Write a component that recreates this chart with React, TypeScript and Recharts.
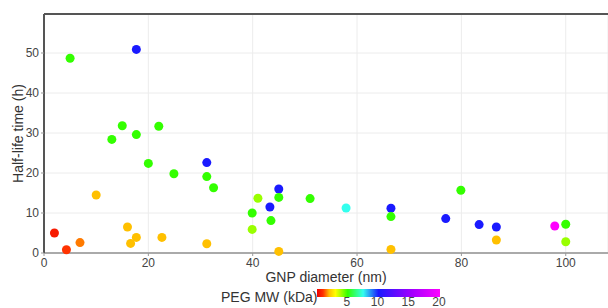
import { ScatterChart, Scatter, XAxis, YAxis, CartesianGrid, ReferenceLine } from 'recharts';

// GNP diameter (nm), half-life (h), PEG molecular weight (kDa)
const diameters = [
  5.0, 17.7, 15.0, 13.0, 17.7, 22.0, 20.0, 24.9, 10.0, 2.0, 4.3, 6.9, 16.0, 16.6, 17.7, 22.6,
  31.2, 31.2, 32.5, 31.2, 41.0, 39.9, 39.9, 43.3, 43.5, 45.0, 45.0, 45.0, 51.0, 57.9, 66.5,
  66.5, 66.5, 79.9, 77.0, 83.4, 86.7, 86.7, 97.9, 100.0, 100.0,
];
const halfLives = [
  48.7, 50.9, 31.8, 28.4, 29.6, 31.7, 22.4, 19.8, 14.5, 5.0, 0.8, 2.6, 6.5, 2.4, 3.9, 3.9,
  22.6, 19.1, 16.3, 2.3, 13.7, 10.0, 5.9, 11.5, 8.1, 16.0, 13.9, 0.4, 13.6, 11.25, 11.2,
  9.1, 0.9, 15.7, 8.6, 7.1, 6.5, 3.25, 6.75, 7.2, 2.8,
];
const pegMW = [
  5, 10, 5, 5, 5, 5, 5, 5, 2, 0.5, 1, 1.5, 2, 2, 2, 2,
  10, 5, 5, 2, 4, 5, 4, 10, 5, 10, 5, 2, 5, 7.5, 10,
  5, 2, 5, 10, 10, 10, 2, 20, 5, 4,
];

const xTicks = [0, 20, 40, 60, 80, 100];
const yTicks = [0, 10, 20, 30, 40, 50];
const mwTicks = [5, 10, 15, 20];

const X_MAX = 108.1;
const Y_MAX = 59.75;
const MW_MAX = 20;

const stops: [number, string][] = [
  [0, '#ee0000'],
  [1, '#ff3300'],
  [2, '#ffc000'],
  [3, '#ffff00'],
  [4, '#99ff00'],
  [5, '#33ff00'],
  [7.5, '#33ffee'],
  [10, '#1a1aff'],
  [15, '#9900ff'],
  [20, '#ff00ff'],
];

function hex(c: string) {
  return [1, 3, 5].map((i) => parseInt(c.slice(i, i + 2), 16));
}

function colorFor(v: number) {
  for (let i = 1; i < stops.length; i++) {
    const [v0, c0] = stops[i - 1];
    const [v1, c1] = stops[i];
    if (v <= v1) {
      const t = (v - v0) / (v1 - v0);
      const a = hex(c0);
      const b = hex(c1);
      const m = a.map((x, k) => Math.round(x + (b[k] - x) * t));
      return `rgb(${m[0]},${m[1]},${m[2]})`;
    }
  }
  return stops[stops.length - 1][1];
}

const data = diameters.map((d, i) => ({ d, h: halfLives[i], mw: pegMW[i] }));

const gradient = `linear-gradient(to right, ${stops
  .map(([v, c]) => `${c} ${(v / MW_MAX) * 100}%`)
  .join(', ')})`;

const font = 'Arial, "Liberation Sans", sans-serif';

export default function App() {
  return (
    <div style={{ position: 'absolute', left: 0, top: 0, width: 608, height: 308, fontFamily: font, overflow: 'hidden' }}>
      <ScatterChart width={608} height={308} margin={{ top: 14, right: 0, left: 0, bottom: 30 }}>
        <CartesianGrid stroke='#ececec' />
        <XAxis
          type='number'
          dataKey='d'
          domain={[0, X_MAX]}
          ticks={xTicks}
          height={25}
          tickSize={3}
          tick={{ fill: '#444', fontSize: 12 }}
          tickLine={{ stroke: '#999' }}
          axisLine={{ stroke: '#aaa', strokeWidth: 2 }}
          label={{ value: 'GNP diameter (nm)', position: 'insideBottom', offset: -4, fill: '#333', fontSize: 14 }}
        />
        <YAxis
          type='number'
          dataKey='h'
          domain={[0, Y_MAX]}
          ticks={yTicks}
          width={44}
          tickSize={3}
          tick={{ fill: '#444', fontSize: 12 }}
          tickLine={{ stroke: '#999' }}
          axisLine={{ stroke: '#555', strokeWidth: 2 }}
          label={{
            value: 'Half-life time (h)',
            angle: -90,
            position: 'insideLeft',
            offset: 18,
            fill: '#333',
            fontSize: 14,
            style: { textAnchor: 'middle' },
          }}
        />
        <ReferenceLine y={Y_MAX} stroke='#555' strokeWidth={2} />
        <Scatter
          data={data}
          isAnimationActive={false}
          shape={(props: any) => {
            const { cx, cy, payload } = props;
            return <circle cx={cx} cy={cy} r={4.5} fill={colorFor(payload.mw)} />;
          }}
        />
      </ScatterChart>
      <div style={{ position: 'absolute', left: 221, top: 289, fontSize: 14, color: '#333', lineHeight: '17px' }}>
        PEG MW (kDa)
      </div>
      <div style={{ position: 'absolute', left: 317, top: 289, width: 123, height: 8, background: gradient }} />
      {mwTicks.map((t) => (
        <div
          key={t}
          style={{
            position: 'absolute',
            left: 316 + (t / MW_MAX) * 123 - 15,
            width: 30,
            top: 296,
            textAlign: 'center',
            fontSize: 12,
            color: '#444',
            lineHeight: '12px',
          }}
        >
          {t}
        </div>
      ))}
    </div>
  );
}
